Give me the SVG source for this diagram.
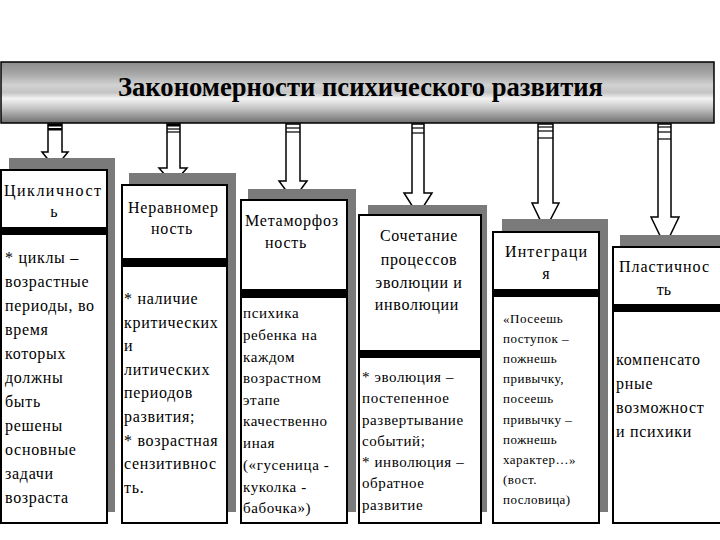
<svg xmlns="http://www.w3.org/2000/svg" width="720" height="540" viewBox="0 0 720 540">
<style>
.shadow{fill:#7a7a7a}
.box{fill:#fff;stroke:#000;stroke-width:2}
.bar{fill:#000}
.arrow{fill:#fff;stroke:#000;stroke-width:1.5;stroke-linejoin:miter}
.stripe{fill:#000}
text{font-family:"Liberation Serif","Times New Roman",serif;fill:#000}
.title{font-size:27px;font-weight:bold}
.hd{font-size:16px}
.hw{letter-spacing:0.7px}
.b16{font-size:16px;letter-spacing:0.7px}
.b15{font-size:15px;letter-spacing:0.6px}
.b14{font-size:15px;letter-spacing:0.6px}
.b13{font-size:13px;letter-spacing:0.5px}
</style>
<defs>
<linearGradient id="tg" x1="0" y1="0" x2="0" y2="1">
<stop offset="0" stop-color="#8c8c8c"/>
<stop offset="0.2" stop-color="#a8a8a8"/>
<stop offset="0.38" stop-color="#d2d2d2"/>
<stop offset="0.5" stop-color="#c4c4c4"/>
<stop offset="0.6" stop-color="#f2f2f2"/>
<stop offset="0.75" stop-color="#c8c8c8"/>
<stop offset="1" stop-color="#6e6e6e"/>
</linearGradient>
</defs>
<rect width="720" height="540" fill="#fff"/>

<g id="title">
<rect x="1" y="62" width="713" height="61" fill="url(#tg)" stroke="#000" stroke-width="1.5"/>
<text class="title" x="118" y="96" textLength="485" lengthAdjust="spacingAndGlyphs">Закономерности психического развития</text>
</g>

<g id="connectors">
<path class="arrow" d="M48,124 V152 H42 L55,168 L68,152 H62 V124 Z"/>
<rect class="stripe" x="48" y="124" width="14" height="2.5"/><rect class="stripe" x="48" y="128" width="14" height="2.5"/>
<path class="arrow" d="M167,124 V168 H159 L173,184 L187,168 H180 V124 Z"/>
<rect class="stripe" x="167" y="124" width="13" height="2.5"/><line x1="167" y1="129" x2="180" y2="129" stroke="#000" stroke-width="1.2"/><line x1="167" y1="132" x2="180" y2="132" stroke="#000" stroke-width="1.2"/>
<path class="arrow" d="M286,124 V181 H279 L293,200 L307,181 H300 V124 Z"/>
<line x1="286" y1="128" x2="300" y2="128" stroke="#000" stroke-width="1.2"/><line x1="286" y1="132" x2="300" y2="132" stroke="#000" stroke-width="1.2"/>
<path class="arrow" d="M412,124 V193 H404 L418,215 L432,193 H424 V124 Z"/>
<line x1="412" y1="128" x2="424" y2="128" stroke="#000" stroke-width="1.2"/><line x1="412" y1="133" x2="424" y2="133" stroke="#000" stroke-width="1.2"/>
<path class="arrow" d="M538,124 V203 H532 L545,230 L559,203 H553 V124 Z"/>
<line x1="538" y1="127" x2="553" y2="127" stroke="#000" stroke-width="1.2"/><line x1="538" y1="131" x2="553" y2="131" stroke="#000" stroke-width="1.2"/><line x1="538" y1="138" x2="553" y2="138" stroke="#000" stroke-width="1.2"/>
<path class="arrow" d="M658,124 V217 H651 L665,246 L679,217 H671 V124 Z"/>
<line x1="658" y1="127" x2="671" y2="127" stroke="#000" stroke-width="1.2"/><line x1="658" y1="132" x2="671" y2="132" stroke="#000" stroke-width="1.2"/><line x1="658" y1="139" x2="671" y2="139" stroke="#000" stroke-width="1.2"/>
</g>

<g id="node1">
<rect class="shadow" x="9" y="158" width="106" height="354"/>
<rect class="box" x="1" y="170" width="106" height="353"/>
<rect class="bar" x="1" y="227" width="106" height="8"/>
<text class="hd" x="4" y="196" textLength="97" lengthAdjust="spacing">Цикличност</text>
<text class="hd" x="54" y="217" text-anchor="middle">ь</text>
<g class="b16">
<text x="5" y="263">* циклы –</text>
<text x="5" y="287">возрастные</text>
<text x="5" y="311">периоды, во</text>
<text x="5" y="335">время</text>
<text x="5" y="359">которых</text>
<text x="5" y="383">должны</text>
<text x="5" y="407">быть</text>
<text x="5" y="431">решены</text>
<text x="5" y="455">основные</text>
<text x="5" y="479">задачи</text>
<text x="5" y="503">возраста</text>
</g>
</g>

<g id="node2">
<rect class="shadow" x="129" y="173" width="107" height="339"/>
<rect class="box" x="122" y="185" width="105" height="338"/>
<rect class="bar" x="122" y="258" width="105" height="9"/>
<text class="hd" x="128" y="213" textLength="90" lengthAdjust="spacing">Неравномер</text>
<text class="hd hw" x="172" y="234" text-anchor="middle">ность</text>
<g class="b16">
<text x="124" y="304">* наличие</text>
<text x="124" y="328">критических</text>
<text x="124" y="351">и</text>
<text x="124" y="375">литических</text>
<text x="124" y="398">периодов</text>
<text x="124" y="422">развития;</text>
<text x="124" y="446">* возрастная</text>
<text x="124" y="469">сензитивнос</text>
<text x="124" y="493">ть.</text>
</g>
</g>

<g id="node3">
<rect class="shadow" x="248" y="189" width="108" height="323"/>
<rect class="box" x="241" y="200" width="106" height="323"/>
<rect class="bar" x="241" y="289" width="106" height="9"/>
<text class="hd" x="245" y="226" textLength="93" lengthAdjust="spacing">Метаморфоз</text>
<text class="hd hw" x="286" y="248" text-anchor="middle">ность</text>
<g class="b15">
<text x="243" y="318">психика</text>
<text x="243" y="340">ребенка на</text>
<text x="243" y="362">каждом</text>
<text x="243" y="383">возрастном</text>
<text x="243" y="405">этапе</text>
<text x="243" y="426">качественно</text>
<text x="243" y="448">иная</text>
<text x="243" y="470">(«гусеница -</text>
<text x="243" y="492">куколка -</text>
<text x="243" y="513">бабочка»)</text>
</g>
</g>

<g id="node4">
<rect class="shadow" x="368" y="205" width="119" height="307"/>
<rect class="box" x="359" y="215" width="122" height="308"/>
<rect class="bar" x="359" y="350" width="122" height="8"/>
<g class="hd hw" text-anchor="middle">
<text x="419" y="241">Сочетание</text>
<text x="419" y="265">процессов</text>
<text x="419" y="288">эволюции и</text>
<text x="417" y="310">инволюции</text>
</g>
<g class="b14">
<text x="362" y="382">* эволюция –</text>
<text x="362" y="403">постепенное</text>
<text x="362" y="425">развертывание</text>
<text x="362" y="446">событий;</text>
<text x="362" y="467">* инволюция –</text>
<text x="362" y="488">обратное</text>
<text x="362" y="510">развитие</text>
</g>
</g>

<g id="node5">
<rect class="shadow" x="502" y="219" width="106" height="293"/>
<rect class="box" x="493" y="232" width="106" height="291"/>
<rect class="bar" x="493" y="289" width="106" height="8"/>
<text class="hd" x="505" y="257" textLength="82" lengthAdjust="spacing">Интеграци</text>
<text class="hd" x="546" y="279" text-anchor="middle">я</text>
<g class="b13">
<text x="503" y="323">«Посеешь</text>
<text x="503" y="343">поступок –</text>
<text x="503" y="363">пожнешь</text>
<text x="503" y="383">привычку,</text>
<text x="503" y="403">посеешь</text>
<text x="503" y="424">привычку –</text>
<text x="503" y="444">пожнешь</text>
<text x="503" y="464">характер…»</text>
<text x="503" y="484">(вост.</text>
<text x="503" y="504">пословица)</text>
</g>
</g>

<g id="node6">
<rect class="shadow" x="620" y="235" width="104" height="277"/>
<rect class="box" x="613" y="247" width="112" height="276"/>
<rect class="bar" x="613" y="304" width="112" height="8"/>
<text class="hd" x="619" y="272" textLength="90" lengthAdjust="spacing">Пластичнос</text>
<text class="hd" x="664" y="295" text-anchor="middle">ть</text>
<g class="b16">
<text x="616" y="365">компенсато</text>
<text x="616" y="389">рные</text>
<text x="616" y="413">возможност</text>
<text x="616" y="437">и психики</text>
</g>
</g>
</svg>
